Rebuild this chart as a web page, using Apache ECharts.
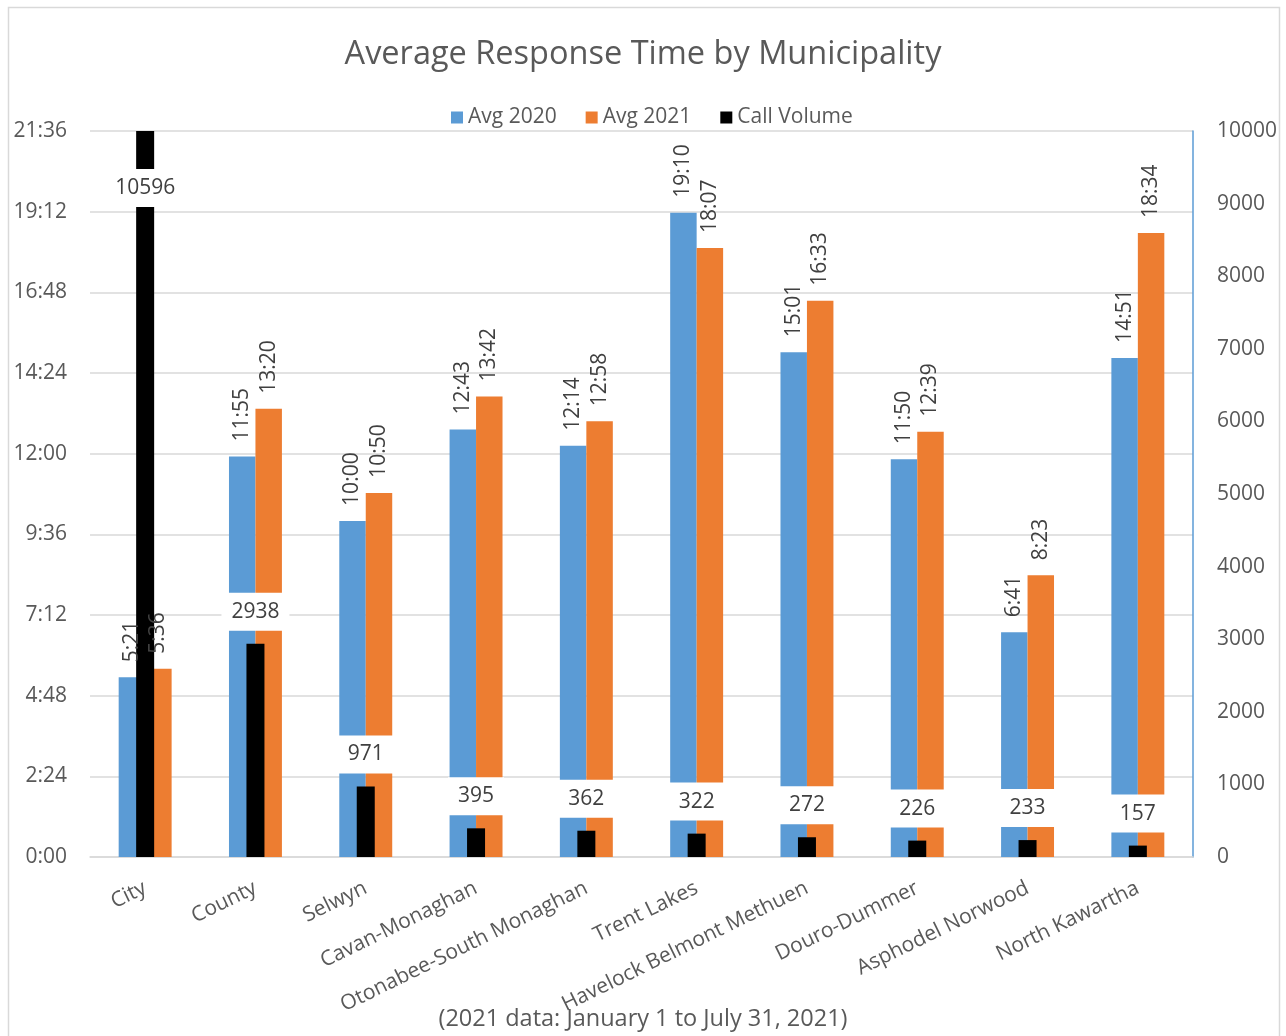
<!DOCTYPE html>
<html>
<head>
<meta charset="utf-8">
<script src="https://cdn.jsdelivr.net/npm/echarts@6/dist/echarts.min.js"></script>
<style>html,body{margin:0;padding:0;background:#fff}#c{width:1286px;height:1036px}</style>
</head>
<body>
<div id="c"></div>
<script>
const categories = ['City','County','Selwyn','Cavan-Monaghan','Otonabee-South Monaghan','Trent Lakes','Havelock Belmont Methuen','Douro-Dummer','Asphodel Norwood','North Kawartha'];
const avg2020 = ['5:21','11:55','10:00','12:43','12:14','19:10','15:01','11:50','6:41','14:51'];
const avg2021 = ['5:36','13:20','10:50','13:42','12:58','18:07','16:33','12:39','8:23','18:34'];
const callVolume = [10596,2938,971,395,362,322,272,226,233,157];
const timeAxis = ['0:00','21:36','2:24'];      // min, max, step
const volumeAxis = [0,10000,1000];            // min, max, step

const FONT = "'Open Sans', sans-serif";
const toSec = s => { const p = s.split(':').map(Number); return p[0]*60 + p[1]; };
const fmt = v => Math.floor(v/60) + ':' + String(Math.round(v % 60)).padStart(2,'0');

const chart = echarts.init(document.getElementById('c'), null, {renderer:'canvas'});
const timeLabel = {
  show:true, position:'top', rotate:90, align:'left', verticalAlign:'middle',
  distance:15, formatter: p => fmt(p.value), fontSize:21, color:'#404040', fontFamily:FONT
};
chart.setOption({
  animation:false,
  backgroundColor:'#fff',
  textStyle:{fontFamily:FONT},
  title:[
    {text:'Average Response Time by Municipality', left:'center', top:33,
     textStyle:{fontSize:32.5, fontWeight:'normal', color:'#595959', fontFamily:FONT}},
    {text:'(2021 data: January 1 to July 31, 2021)', left:'center', top:1002,
     textStyle:{fontSize:23.5, fontWeight:'normal', color:'#595959', fontFamily:FONT}}
  ],
  legend:{
    top:102, left:446, itemWidth:12, itemHeight:12, itemGap:29, icon:'rect',
    textStyle:{fontSize:21, color:'#595959', fontFamily:FONT},
    data:['Avg 2020','Avg 2021','Call Volume']
  },
  graphic:[{type:'rect', silent:true, z:-10,
    shape:{x:8.5, y:7.5, width:1271, height:1060},
    style:{fill:'none', stroke:'#D9D9D9', lineWidth:1.5}}],
  grid:{left:90, right:93, top:131, bottom:179},
  xAxis:[
    {type:'category', data:categories,
     axisLine:{lineStyle:{color:'#D9D9D9', width:1.5}}, axisTick:{show:false},
     axisLabel:{rotate:26, interval:0, margin:30, fontSize:21, color:'#595959', fontFamily:FONT}},
    {type:'category', data:categories, show:false}
  ],
  yAxis:[
    {type:'value', min:toSec(timeAxis[0]), max:toSec(timeAxis[1]), interval:toSec(timeAxis[2]),
     axisLabel:{formatter:v => fmt(v), fontSize:21, color:'#595959', margin:23, fontFamily:FONT},
     splitLine:{lineStyle:{color:'#D9D9D9', width:1.5}}, axisLine:{show:false}, axisTick:{show:false}},
    {type:'value', position:'right', min:volumeAxis[0], max:volumeAxis[1], interval:volumeAxis[2],
     axisLabel:{formatter:v => String(v), fontSize:21, color:'#595959', margin:24, fontFamily:FONT},
     splitLine:{show:false}, axisTick:{show:false},
     axisLine:{show:true, lineStyle:{color:'#5B9BD5', width:1.5}}}
  ],
  series:[
    {name:'Avg 2020', type:'bar', data:avg2020.map(toSec), barGap:'0%', barCategoryGap:'52%',
     itemStyle:{color:'#5B9BD5'}, label:timeLabel},
    {name:'Avg 2021', type:'bar', data:avg2021.map(toSec), barGap:'0%', barCategoryGap:'52%',
     itemStyle:{color:'#ED7D31'}, label:timeLabel},
    {name:'Call Volume', type:'bar', xAxisIndex:1, yAxisIndex:1, barWidth:18,
     itemStyle:{color:'#000'},
     data:callVolume.map(v => v > volumeAxis[1] ? {value:v, label:{position:'insideTop', distance:38}} : v),
     label:{show:true, position:'top', distance:13, backgroundColor:'#fff', padding:[9,10],
            lineHeight:20, fontSize:21, color:'#404040', fontFamily:FONT}}
  ]
});
</script>
</body>
</html>
